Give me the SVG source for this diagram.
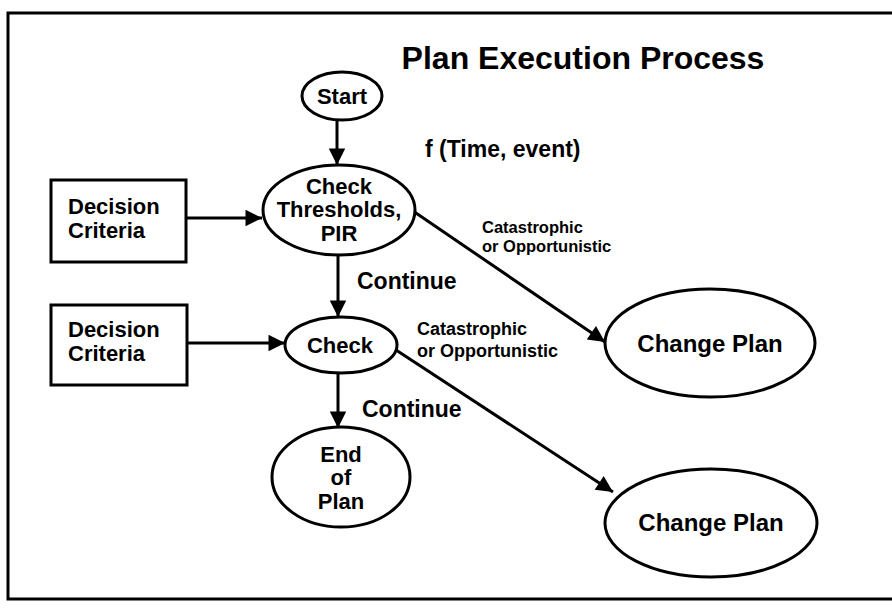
<svg xmlns="http://www.w3.org/2000/svg" width="892" height="608" viewBox="0 0 892 608">
<defs>
<style>
text{font-family:"Liberation Sans",Arial,Helvetica,sans-serif;font-weight:bold;fill:#000}
.n{fill:#fff;stroke:#000;stroke-width:3}
.c{stroke:#000;stroke-width:3;fill:none}
.t{font-size:22px;text-anchor:middle}
.l{font-size:22px}
</style>
<marker id="ah" viewBox="0 0 10 10" refX="10" refY="5" markerWidth="8" markerHeight="5.5" markerUnits="strokeWidth" orient="auto">
<path d="M0,0 L10,5 L0,10 z" fill="#000"/>
</marker>
</defs>
<rect width="892" height="608" fill="#fff"/>
<path d="M900,13 H8 V599 H900" fill="none" stroke="#000" stroke-width="3"/>
<text x="583" y="69" style="font-size:32px;text-anchor:middle">Plan Execution Process</text>
<text x="425" y="157" style="font-size:23px">f (Time, event)</text>
<g id="connectors">
<line class="c" x1="337" y1="120" x2="337" y2="165" marker-end="url(#ah)"/>
<line class="c" x1="186" y1="218" x2="262" y2="218" marker-end="url(#ah)"/>
<line class="c" x1="338" y1="255" x2="338" y2="317" marker-end="url(#ah)"/>
<line class="c" x1="187" y1="343" x2="285" y2="343" marker-end="url(#ah)"/>
<line class="c" x1="338" y1="373" x2="338" y2="428" marker-end="url(#ah)"/>
<line class="c" x1="413" y1="211" x2="605" y2="342" marker-end="url(#ah)"/>
<line class="c" x1="396" y1="350" x2="613" y2="492" marker-end="url(#ah)"/>
<text x="482" y="233" style="font-size:16.5px">Catastrophic</text>
<text x="482" y="252" style="font-size:16.5px">or Opportunistic</text>
<text x="357" y="289" style="font-size:23px">Continue</text>
<text x="417" y="335" style="font-size:18px">Catastrophic</text>
<text x="417" y="357" style="font-size:18px">or Opportunistic</text>
<text x="362" y="417" style="font-size:23px">Continue</text>
</g>
<g id="start">
<ellipse class="n" cx="342" cy="96" rx="40" ry="24"/>
<text x="342" y="104" class="t">Start</text>
</g>
<g id="check-thresholds">
<ellipse class="n" cx="339" cy="210" rx="76" ry="45"/>
<text x="339" y="194" class="t">Check</text>
<text x="339" y="217" class="t">Thresholds,</text>
<text x="339" y="241" class="t">PIR</text>
</g>
<g id="decision-criteria-1">
<rect class="n" x="51" y="180" width="135" height="82"/>
<text x="68" y="214" class="l">Decision</text>
<text x="68" y="238" class="l">Criteria</text>
</g>
<g id="decision-criteria-2">
<rect class="n" x="51" y="305" width="136" height="80"/>
<text x="68" y="337" class="l">Decision</text>
<text x="68" y="361" class="l">Criteria</text>
</g>
<g id="check">
<ellipse class="n" cx="341" cy="345" rx="56" ry="28"/>
<text x="340" y="353" class="t">Check</text>
</g>
<g id="end-of-plan">
<ellipse class="n" cx="341" cy="477" rx="69" ry="50"/>
<text x="341" y="462" class="t">End</text>
<text x="341" y="485" class="t">of</text>
<text x="341" y="509" class="t">Plan</text>
</g>
<g id="change-plan-1">
<ellipse class="n" cx="710" cy="343" rx="105" ry="54"/>
<text x="710" y="352" class="t" style="font-size:24px">Change Plan</text>
</g>
<g id="change-plan-2">
<ellipse class="n" cx="711" cy="523" rx="106" ry="54"/>
<text x="711" y="531" class="t" style="font-size:24px">Change Plan</text>
</g>
</svg>
